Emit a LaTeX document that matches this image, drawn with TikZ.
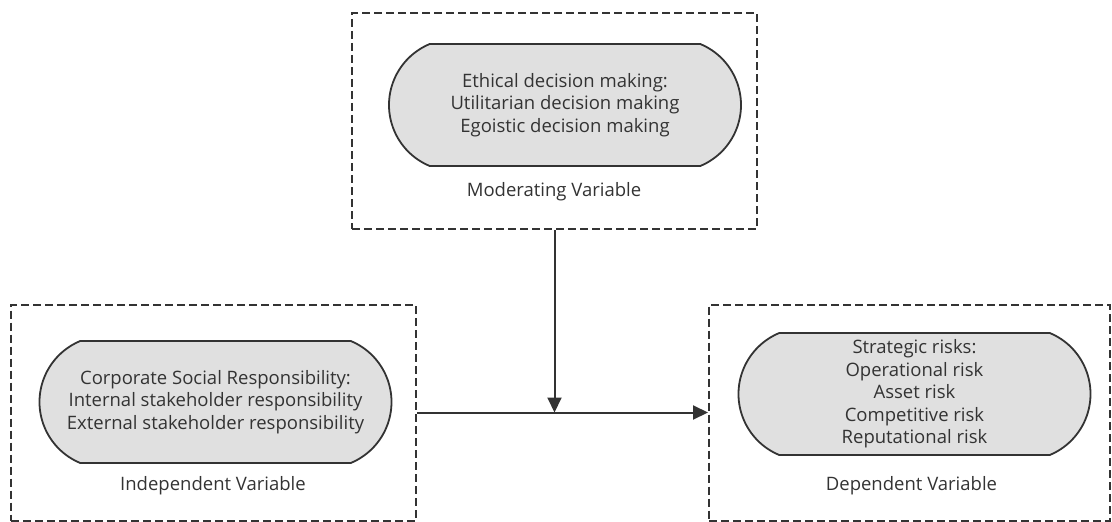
\documentclass[tikz,border=0pt]{standalone}
\usepackage{fontspec}
\setmainfont{Open Sans}
\usetikzlibrary{shapes.misc,arrows.meta}
\definecolor{pillgray}{HTML}{E0E0E0}
\definecolor{ink}{HTML}{333333}
\begin{document}
\begin{tikzpicture}[x=1pt,y=-1pt,
    varbox/.style={draw=ink,line width=2pt,dash pattern=on 8pt off 4pt,minimum width=405pt,minimum height=216pt,inner sep=0pt},
    pill/.style={rounded rectangle,rounded rectangle arc length=135,draw=ink,line width=1.8pt,fill=pillgray,minimum width=352pt,minimum height=122pt,inner sep=0pt,align=center,text=ink,font=\fontsize{18.5}{22.5}\selectfont},
    varlabel/.style={text=ink,font=\fontsize{18.5}{22}\selectfont},
    link/.style={draw=ink,line width=2pt,-{Triangle[length=15pt,width=14pt]}}]
    \useasboundingbox (0,0) rectangle (1112,522);
    % moderating variable
    \node[varbox] (mod) at (554.5,121) {};
    \node[pill] (modpill) at (565,105) {Ethical decision making:\\Utilitarian decision making\\Egoistic decision making};
    \node[varlabel] (modlabel) at (554,192) {Moderating Variable};
    % independent variable
    \node[varbox] (ind) at (213.5,412.5) {};
    \node[pill] (indpill) at (215.5,402) {Corporate Social Responsibility:\\Internal stakeholder responsibility\\External stakeholder responsibility};
    \node[varlabel] (indlabel) at (213,486) {Independent Variable};
    % dependent variable
    \node[varbox,minimum width=401pt] (dep) at (909.5,412.5) {};
    \node[pill] (deppill) at (914.5,394) {Strategic risks:\\Operational risk\\Asset risk\\Competitive risk\\Reputational risk};
    \node[varlabel] (deplabel) at (911.5,486) {Dependent Variable};
    % links
    \coordinate (meet) at (mod.south |- ind.east);
    \draw[link] (ind.east) -- (dep.west);
    \draw[link] (mod.south) -- (meet);
\end{tikzpicture}
\end{document}
